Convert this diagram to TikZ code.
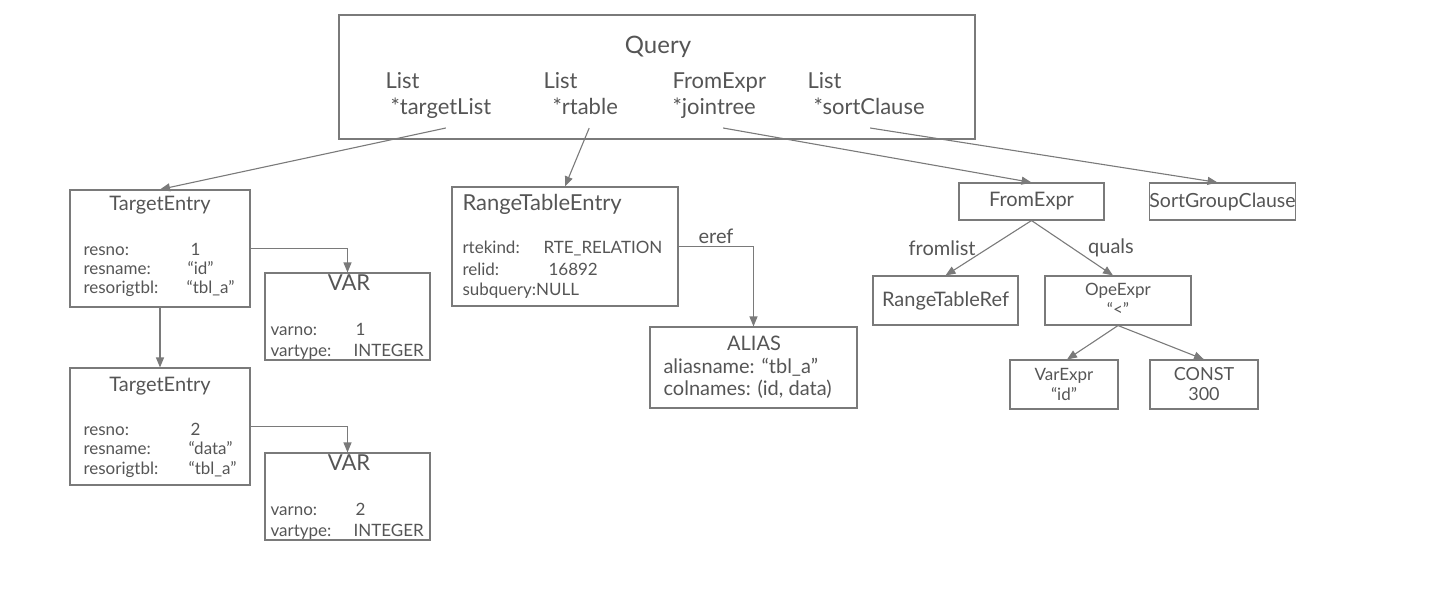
\documentclass[tikz,border=0pt]{standalone}
\usepackage{fontspec}
\setmainfont{Lato}
\usetikzlibrary{arrows.meta}
\definecolor{ink}{HTML}{555555}
\definecolor{edge}{HTML}{7A7A7A}
\begin{document}
\begin{tikzpicture}[x=1pt, y=-1pt, line width=1.1pt, color=edge, text=ink,
  box/.style={draw, rectangle, inner sep=0pt},
  txt/.style={inner sep=0pt, anchor=base},
  row/.style={inner sep=0pt, anchor=base west},
  huge/.style={font=\fontsize{24}{28}\selectfont},
  big/.style={font=\fontsize{22}{26}\selectfont},
  mid/.style={font=\fontsize{20}{24}\selectfont},
  small/.style={font=\fontsize{17}{20}\selectfont},
  >={Triangle[length=10pt, width=8pt]}]
\useasboundingbox (0,0) rectangle (1440,604);

% Query
\node[box, minimum width=636pt, minimum height=124pt] (query) at (657,77) {};
\node[txt, huge] (qname) at (658,54) {Query};
\node[row, big] (l1) at (385,89) {List};
\node[row, big] (tl) at (390,115) {*targetList};
\node[row, big] (l2) at (543,89) {List};
\node[row, big] (rt) at (552,115) {*rtable};
\node[row, big] (l3) at (672,89) {FromExpr};
\node[row, big] (jt) at (672,115) {*jointree};
\node[row, big] (l4) at (807,89) {List};
\node[row, big] (sc) at (813,115) {*sortClause};

% target list
\node[box, minimum width=180pt, minimum height=117pt] (te1) at (160,248.5) {};
\node[txt, mid] (te1t) at (160,211) {TargetEntry};
\node[row, small] (te1a) at (83,255) {resno:};
\node[row, small] (te1b) at (83,274) {resname:};
\node[row, small] (te1c) at (83,293) {resorigtbl:};
\node[row, small] (te1d) at (190,255) {1};
\node[row, small] (te1e) at (187,274) {“id”};
\node[row, small] (te1f) at (186,293) {“tbl\_a”};

\node[box, minimum width=165pt, minimum height=87pt] (var1) at (347.5,316.5) {};
\node[txt, big] (var1t) at (349,290) {VAR};
\node[row, small] (var1a) at (270,335) {varno:};
\node[row, small] (var1b) at (270,356) {vartype:};
\node[row, small] (var1c) at (355,335) {1};
\node[row, small] (var1d) at (353,356) {INTEGER};

\node[box, minimum width=180pt, minimum height=117pt] (te2) at (160,426.5) {};
\node[txt, mid] (te2t) at (160,391) {TargetEntry};
\node[row, small] (te2a) at (83,435) {resno:};
\node[row, small] (te2b) at (83,454) {resname:};
\node[row, small] (te2c) at (83,474) {resorigtbl:};
\node[row, small] (te2d) at (190,435) {2};
\node[row, small] (te2e) at (188,454) {“data”};
\node[row, small] (te2f) at (188,474) {“tbl\_a”};

\node[box, minimum width=165pt, minimum height=87pt] (var2) at (347.5,496.5) {};
\node[txt, big] (var2t) at (349,470) {VAR};
\node[row, small] (var2a) at (270,515) {varno:};
\node[row, small] (var2b) at (270,536) {vartype:};
\node[row, small] (var2c) at (355,515) {2};
\node[row, small] (var2d) at (353,536) {INTEGER};

% range table
\node[box, minimum width=226pt, minimum height=119pt] (rte) at (565,246.5) {};
\node[row, big] (rtet) at (462,211) {RangeTableEntry};
\node[row, small] (rtea) at (462,254) {rtekind:};
\node[row, small] (rteb) at (462,275) {relid:};
\node[row, small] (rtec) at (462,295) {subquery:NULL};
\node[row, small] (rted) at (543,254) {RTE\_RELATION};
\node[row, small] (rtee) at (548,275) {16892};

\node[box, minimum width=207pt, minimum height=81pt] (alias) at (753.5,367.5) {};
\node[txt, mid] (aliast) at (754,350) {ALIAS};
\node[row, mid] (aliasa) at (663,373) {aliasname: “tbl\_a”};
\node[row, mid] (aliasb) at (663,395) {colnames: (id, data)};

% join tree
\node[box, mid, minimum width=145pt, minimum height=37pt] (from) at (1031.5,201.5) {FromExpr};
\node[box, font=\fontsize{19.5}{24}\selectfont, minimum width=145pt, minimum height=37pt] (sgc) at (1222.5,201.5) {SortGroupClause};
\node[box, mid, minimum width=145pt, minimum height=49pt] (rtref) at (945.5,300.5) {RangeTableRef};
\node[box, minimum width=146pt, minimum height=49pt] (ope) at (1118,300.5) {};
\node[txt, small] (opea) at (1118,295) {OpeExpr};
\node[txt, small] (opeb) at (1118,315) {“<”};
\node[box, minimum width=108pt, minimum height=49pt] (vexp) at (1064,384.5) {};
\node[txt, small] (vexpa) at (1064,380) {VarExpr};
\node[txt, small] (vexpb) at (1064,400) {“id”};
\node[box, minimum width=108pt, minimum height=49pt] (cst) at (1204,384.5) {};
\node[txt, font=\fontsize{18}{22}\selectfont] (csta) at (1204,380) {CONST};
\node[txt, font=\fontsize{18}{22}\selectfont] (cstb) at (1204,400) {300};

% links
\draw[->] ([xshift=5pt, yshift=-13pt]tl.base) -- (te1.north);
\draw[->] ([xshift=4pt, yshift=-13pt]rt.base) -- (rte.north);
\draw[->] ([xshift=9pt, yshift=-13pt]jt.base) -- (from.north);
\draw[->] ([xshift=1pt, yshift=-13pt]sc.base) -- ([xshift=-5pt]sgc.north);
\draw[->] (te1) -| (var1);
\draw[->] (te1) -- (te2);
\draw[->] (te2) -| (var2);
\draw[->] (rte) -| node[pos=0.25, above, mid, inner sep=2pt]{eref} (alias);
\draw[->] (from.south) -- node[midway, left=9pt, mid]{fromlist} (rtref.north);
\draw[->] (from.south) -- node[midway, right=12pt, mid]{quals} ([xshift=-5pt]ope.north);
\draw[->] (ope.south) -- ([xshift=3pt]vexp.north);
\draw[->] (ope.south) -- (cst.north);
\end{tikzpicture}
\end{document}
